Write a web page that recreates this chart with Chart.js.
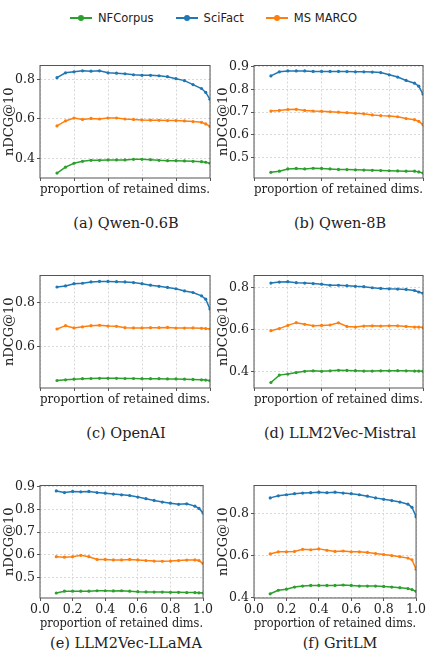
<!DOCTYPE html>
<html>
<head>
<meta charset="utf-8">
<script src="https://cdn.jsdelivr.net/npm/chart.js@4/dist/chart.umd.min.js"></script>
<style>
  body { margin: 0; background: white; width: 427px; height: 651px; position: relative; overflow: hidden; }
  canvas { position: absolute; }
  .cap { position: absolute; font-family: "DejaVu Serif", serif; font-size: 14.5px; color: #222; text-align: center; width: 172px; }
  #legend { position: absolute; top: 11px; left: 0; width: 427px; display: flex; justify-content: center; gap: 22px; font-family: "DejaVu Sans", sans-serif; font-size: 11.5px; color: #222; }
  .item { display: flex; align-items: center; gap: 6px; }
  .mk { position: relative; width: 22px; height: 2px; }
  .mk i { position: absolute; left: 8px; top: -2px; width: 6px; height: 6px; border-radius: 50%; }
</style>
</head>
<body>
<div id="legend"></div>

<script>
const dims = [0.1, 0.15, 0.2, 0.25, 0.3, 0.35, 0.4, 0.45, 0.5, 0.55, 0.6, 0.65, 0.7, 0.75, 0.8, 0.85, 0.9, 0.95, 0.975, 1.0]
const seriesNames = ['NFCorpus', 'SciFact', 'MS MARCO']
const seriesColors = ['#2ca02c', '#1f77b4', '#ff7f0e']
const captions = ['(a) Qwen-0.6B', '(b) Qwen-8B', '(c) OpenAI', '(d) LLM2Vec-Mistral', '(e) LLM2Vec-LLaMA', '(f) GritLM']

// [NFCorpus, SciFact, MS MARCO] per model
const qwen06 = [
  [0.325,0.355,0.375,0.385,0.39,0.39,0.392,0.392,0.392,0.395,0.395,0.393,0.39,0.388,0.388,0.387,0.385,0.383,0.38,0.375],
  [0.81,0.835,0.84,0.845,0.843,0.845,0.835,0.833,0.83,0.825,0.822,0.822,0.82,0.815,0.805,0.795,0.775,0.755,0.735,0.70],
  [0.565,0.59,0.605,0.598,0.603,0.60,0.605,0.605,0.60,0.598,0.595,0.594,0.593,0.592,0.592,0.59,0.587,0.583,0.575,0.562]
]
const qwen8 = [
  [0.435,0.44,0.45,0.452,0.45,0.453,0.452,0.45,0.448,0.447,0.446,0.445,0.444,0.443,0.442,0.441,0.44,0.44,0.437,0.432],
  [0.86,0.878,0.882,0.882,0.882,0.88,0.88,0.88,0.88,0.879,0.878,0.878,0.877,0.875,0.865,0.855,0.84,0.828,0.815,0.78],
  [0.705,0.708,0.712,0.713,0.708,0.705,0.704,0.702,0.70,0.698,0.695,0.693,0.688,0.685,0.683,0.68,0.672,0.667,0.66,0.645]
]
const openai = [
  [0.447,0.45,0.453,0.455,0.456,0.457,0.457,0.457,0.456,0.456,0.455,0.455,0.455,0.454,0.454,0.453,0.452,0.45,0.449,0.446],
  [0.87,0.875,0.885,0.887,0.893,0.895,0.895,0.894,0.893,0.89,0.885,0.878,0.873,0.868,0.862,0.852,0.845,0.83,0.815,0.77],
  [0.68,0.695,0.685,0.69,0.695,0.697,0.693,0.692,0.686,0.685,0.685,0.686,0.686,0.687,0.684,0.684,0.685,0.683,0.682,0.68]
]
const mistral = [
  [0.35,0.385,0.39,0.397,0.403,0.405,0.403,0.405,0.408,0.407,0.406,0.404,0.404,0.405,0.405,0.406,0.405,0.404,0.404,0.403],
  [0.82,0.825,0.827,0.822,0.82,0.818,0.815,0.81,0.81,0.808,0.805,0.803,0.798,0.795,0.793,0.792,0.79,0.785,0.778,0.772],
  [0.595,0.605,0.62,0.633,0.625,0.618,0.62,0.622,0.632,0.615,0.612,0.617,0.618,0.617,0.618,0.618,0.615,0.612,0.612,0.61]
]
const llama = [
  [0.432,0.44,0.44,0.44,0.44,0.442,0.442,0.441,0.442,0.44,0.438,0.437,0.436,0.436,0.435,0.435,0.434,0.434,0.433,0.432],
  [0.882,0.875,0.88,0.878,0.88,0.875,0.872,0.868,0.865,0.862,0.855,0.848,0.84,0.833,0.828,0.823,0.825,0.815,0.805,0.785],
  [0.592,0.59,0.592,0.598,0.592,0.58,0.58,0.578,0.578,0.58,0.578,0.575,0.573,0.572,0.573,0.575,0.577,0.578,0.575,0.562]
]
const gritlm = [
  [0.418,0.435,0.44,0.45,0.455,0.458,0.458,0.458,0.458,0.46,0.458,0.455,0.455,0.455,0.453,0.45,0.447,0.443,0.438,0.43],
  [0.875,0.885,0.89,0.895,0.898,0.9,0.902,0.9,0.902,0.898,0.895,0.89,0.883,0.875,0.868,0.862,0.855,0.845,0.83,0.785],
  [0.608,0.618,0.618,0.62,0.63,0.628,0.632,0.625,0.62,0.622,0.618,0.618,0.615,0.61,0.605,0.6,0.595,0.588,0.58,0.535]
]
const models = [qwen06, qwen8, openai, mistral, llama, gritlm]

const yRanges = [[0.30, 0.872], [0.41, 0.906], [0.413, 0.922], [0.324, 0.856], [0.41, 0.906], [0.398, 0.934]]
const yTicks = [[0.4, 0.6, 0.8], [0.5, 0.6, 0.7, 0.8, 0.9], [0.6, 0.8], [0.4, 0.6, 0.8], [0.5, 0.6, 0.7, 0.8, 0.9], [0.4, 0.6, 0.8]]
const xTicks = [0, 0.2, 0.4, 0.6, 0.8, 1.0]

// legend
const legend = document.getElementById('legend')
seriesNames.forEach((n, i) => {
  legend.innerHTML += `<div class="item"><span class="mk" style="background:${seriesColors[i]}"><i style="background:${seriesColors[i]}"></i></span>${n}</div>`
})

const frame = {
  id: 'frame',
  afterDraw(chart) {
    const a = chart.chartArea, c = chart.ctx
    c.save()
    c.strokeStyle = '#555'
    c.lineWidth = 1
    c.strokeRect(a.left, a.top, a.right - a.left, a.bottom - a.top)
    c.restore()
  }
}

const serif = '"DejaVu Serif", serif'
const plotTops = [61, 271, 481]

models.forEach((m, k) => {
  const row = Math.floor(k / 2), col = k % 2
  const bottomRow = row === 2
  const xH = bottomRow ? 33 : 19
  const cv = document.createElement('canvas')
  const w = col === 0 ? 214 : 213
  const h = 5 + 117 + xH
  cv.width = w; cv.height = h
  cv.style.left = (col === 0 ? 0 : 214) + 'px'
  cv.style.top = (plotTops[row] - 5) + 'px'
  cv.style.width = w + 'px'; cv.style.height = h + 'px'
  document.body.appendChild(cv)

  const cap = document.createElement('div')
  cap.className = 'cap'
  cap.textContent = captions[k]
  cap.style.left = (col === 0 ? 40 : 254) + 'px'
  cap.style.top = (plotTops[row] + 154) + 'px'
  document.body.appendChild(cap)

  new Chart(cv.getContext('2d'), {
    type: 'line',
    data: {
      datasets: m.map((vals, i) => ({
        label: seriesNames[i],
        data: dims.map((x, j) => ({ x: x, y: vals[j] })),
        borderColor: seriesColors[i],
        backgroundColor: seriesColors[i],
        borderWidth: 1.5,
        pointRadius: 1.6,
        pointBorderWidth: 0,
        tension: 0
      }))
    },
    plugins: [frame],
    options: {
      responsive: false,
      animation: false,
      devicePixelRatio: 1,
      layout: { padding: { left: 2, right: 2, top: 5, bottom: 0 } },
      plugins: { legend: { display: false }, tooltip: { enabled: false } },
      scales: {
        x: {
          type: 'linear',
          min: 0, max: 1.0,
          afterBuildTicks: s => { s.ticks = xTicks.map(v => ({ value: v })) },
          afterFit: s => { s.height = xH },
          grid: { color: '#d8d8d8', tickColor: '#555', tickLength: 3, borderDash: [2, 2] },
          border: { display: false, dash: [2, 2] },
          ticks: {
            display: bottomRow,
            color: '#222',
            padding: 1,
            font: { family: serif, size: 12.5 },
            callback: v => v.toFixed(1)
          },
          title: {
            display: true,
            text: 'proportion of retained dims.',
            color: '#222',
            padding: { top: bottomRow ? 0 : 1, bottom: 0 },
            font: { family: serif, size: 13 }
          }
        },
        y: {
          min: yRanges[k][0], max: yRanges[k][1],
          afterBuildTicks: s => { s.ticks = yTicks[k].map(v => ({ value: v })) },
          afterFit: s => { s.width = 38 },
          grid: { color: '#d8d8d8', tickColor: '#555', tickLength: 3 },
          border: { display: false, dash: [2, 2] },
          ticks: {
            color: '#222',
            padding: 2,
            font: { family: serif, size: 12.5 },
            callback: v => v.toFixed(1)
          },
          title: {
            display: true,
            text: 'nDCG@10',
            color: '#222',
            padding: { top: 0, bottom: 0 },
            font: { family: serif, size: 13 }
          }
        }
      }
    }
  })
})
</script>
</body>
</html>
